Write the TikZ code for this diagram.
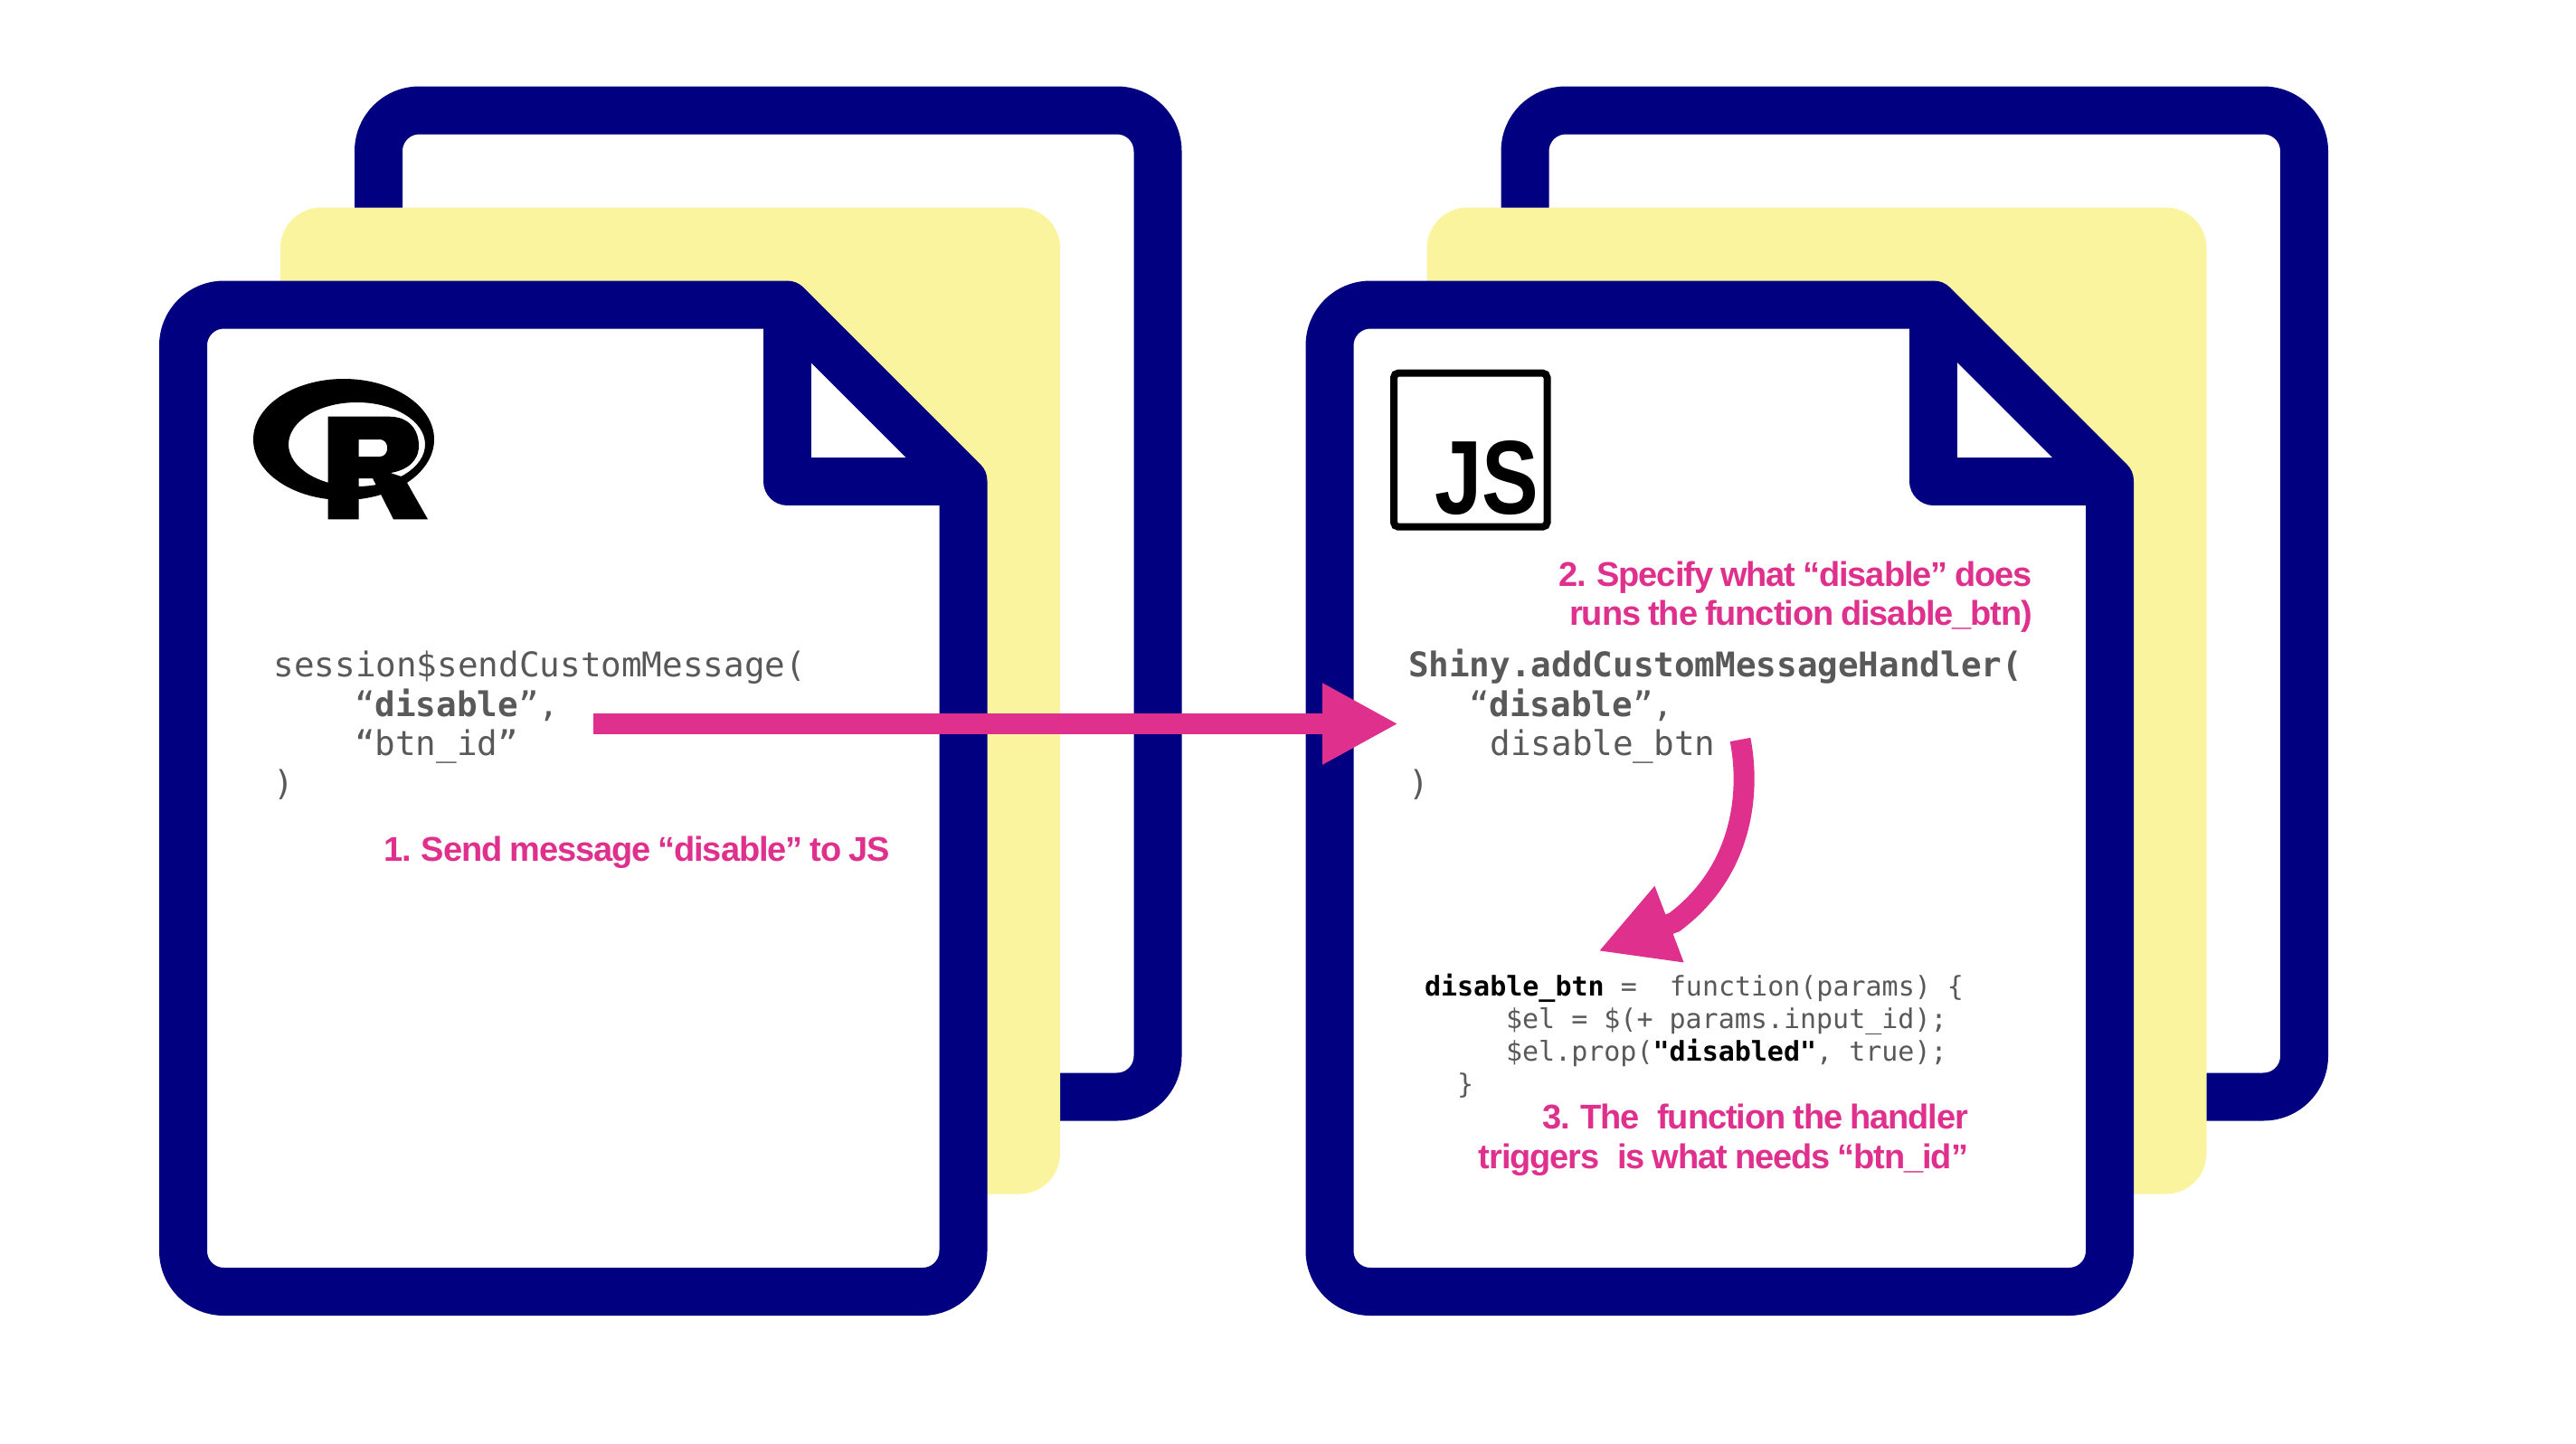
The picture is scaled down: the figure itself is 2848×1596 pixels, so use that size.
\documentclass[tikz,border=0pt]{standalone}
\usepackage{fontspec}
\usetikzlibrary{arrows.meta}
\setmainfont{Liberation Sans}
\newfontfamily\codefont{DejaVu Sans Mono}
\newfontfamily\notefont[LetterSpace=-2.9,WordSpace=0.85]{Liberation Sans}
\definecolor{pagenavy}{RGB}{0,0,128}
\definecolor{sheetyellow}{RGB}{251,244,159}
\definecolor{notepink}{RGB}{222,48,140}
\definecolor{codegray}{RGB}{89,89,89}
\tikzset{
  every node/.style={inner sep=0pt,outer sep=0pt},
  pageline/.style={draw=pagenavy,line width=26.5pt,line join=round},
  pagefill/.style={pageline,fill=white},
  sheet/.style={fill=sheetyellow},
  codeline/.style={anchor=base west,text=codegray,font=\codefont\fontsize{18.8}{22}\selectfont},
  smallcode/.style={anchor=base west,text=codegray,font=\codefont\fontsize{15}{18}\selectfont},
  noteleft/.style={anchor=base west,text=notepink,font=\notefont\bfseries\fontsize{19}{22}\selectfont},
  noteright/.style={anchor=base east,text=notepink,font=\notefont\bfseries\fontsize{19}{22}\selectfont},
  pinkarrow/.style={draw=notepink,line width=11.5pt,-{Triangle[length=42pt,width=42pt]}},
}
\newcommand{\docstack}{%
  \draw[pagefill,rounded corners=22.5pt] (418.5,122) rectangle (1280,1213);
  \fill[sheet,rounded corners=22.5pt] (310,229.5) rectangle (1172,1320.5);
  \draw[pagefill] (500,337) -- (870,337) -- (1065,532)
     [rounded corners=22.5pt] -- (1065,1428.5) -- (202.5,1428.5) -- (202.5,337) -- cycle;
  \draw[pageline] (870,337) -- (870,532) -- (1065,532);
}
\begin{document}
\begin{tikzpicture}[x=0.5pt,y=-0.5pt]
\useasboundingbox (0,0) rectangle (2848,1596);
\fill[white] (0,0) rectangle (2848,1596);
\begin{scope}\docstack\end{scope}
\begin{scope}[xshift=633.75pt]\docstack\end{scope}

% R logo
\fill[black,even odd rule] (380,486) ellipse [x radius=100,y radius=67]
   (394.5,491.5) ellipse [x radius=75.5,y radius=46.5];
\fill[black,even odd rule] (362.7,460.7) -- (430,460.7)
   .. controls (452,460.7) and (463,475) .. (463,493)
   .. controls (463,510) and (450,520) .. (431.7,523)
   -- (446.7,528) -- (473,574.3) -- (435,574.3) -- (412,529) -- (396.7,529)
   -- (396.7,574.3) -- (362.7,574.3) -- cycle
   (396.7,486) -- (420,486) .. controls (431,486) and (431,505) .. (420,505)
   -- (396.7,505) -- cycle;

% JS logo
\draw[black,line width=4pt,rounded corners=2.5pt] (1541,412.6) rectangle (1710.5,582.7);
\node[anchor=base east,text=black,font=\fontsize{58}{62}\bfseries\selectfont] (jslabel) at (1701,568) {\scalebox{0.81}[1]{JS}};

% code, R side
\node[codeline] (r1) at (302.5,748.5) {session\$sendCustomMessage(};
\node[codeline] (r2) at (392,792) {“\textbf{disable}”,};
\node[codeline] (r3) at (392,835.6) {“btn\_id”};
\node[codeline] (r4) at (302.5,879) {)};
\node[noteleft] (n1) at (424,952.5) {1. Send message “disable” to JS};

% code, JS side
\node[noteright] (n2a) at (2247,648.5) {2. Specify what “disable” does};
\node[noteright] (n2b) at (2247,691.5) {runs the function disable\_btn)};
\node[codeline] (j1) at (1557,748.5) {\textbf{Shiny.addCustomMessageHandler(}};
\node[codeline] (j2) at (1624,792) {“\textbf{disable}”,};
\node[codeline] (j3) at (1647.5,835.6) {disable\_btn};
\node[codeline] (j4) at (1557,879) {)};

% function
\node[smallcode] (f1) at (1575,1101.5) {\textcolor{black}{\textbf{disable\_btn}} =~~function(params) \{};
\node[smallcode] (f2) at (1665,1137.5) {\$el = \$(+ params.input\_id);};
\node[smallcode] (f3) at (1665,1173.5) {\$el.prop(\textcolor{black}{\textbf{"disabled"}}, true);};
\node[smallcode] (f4) at (1611,1209.5) {\}};
\node[noteright] (n3a) at (2176,1248.5) {3. The~~\hspace{0.1em}function the handler};
\node[noteright] (n3b) at (2176,1292.5) {triggers~~\hspace{0.1em}is what needs “btn\_id”};

% arrows
\coordinate (sendstart) at (656,800.5);
\coordinate (sendend) at (1546,800.5);
\draw[pinkarrow] (sendstart) -- (sendend);
\coordinate (curvestart) at (1924,818);
\coordinate (curvemid) at (1851,1020);
\coordinate (curveend) at (1767,1052);
\draw[pinkarrow] (curvestart) .. controls (1936,880) and (1925,965) .. (curvemid) -- (curveend);
\end{tikzpicture}
\end{document}
